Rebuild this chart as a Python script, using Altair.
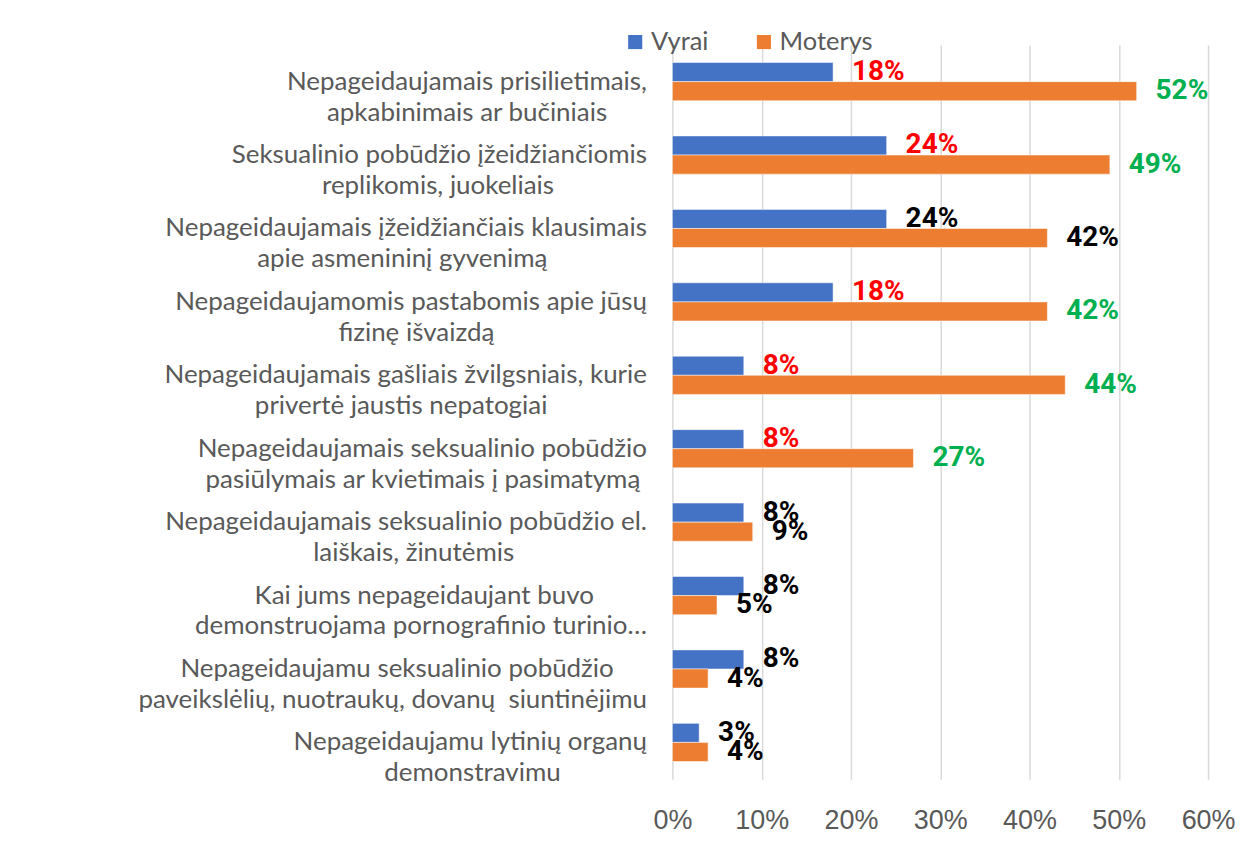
import altair as alt
import pandas as pd

line1 = [
    "Nepageidaujamais prisilietimais,",
    "Seksualinio pobūdžio įžeidžiančiomis",
    "Nepageidaujamais įžeidžiančiais klausimais",
    "Nepageidaujamomis pastabomis apie jūsų",
    "Nepageidaujamais gašliais žvilgsniais, kurie",
    "Nepageidaujamais seksualinio pobūdžio",
    "Nepageidaujamais seksualinio pobūdžio el.",
    "Kai jums nepageidaujant buvo",
    "Nepageidaujamu seksualinio pobūdžio",
    "Nepageidaujamu lytinių organų",
]
line2 = [
    "apkabinimais ar bučiniais",
    "replikomis, juokeliais",
    "apie asmenininį gyvenimą",
    "fizinę išvaizdą",
    "privertė jaustis nepatogiai",
    "pasiūlymais ar kvietimais į pasimatymą",
    "laiškais, žinutėmis",
    "demonstruojama pornografinio turinio…",
    "paveikslėlių, nuotraukų, dovanų\u00a0 siuntinėjimu",
    "demonstravimu",
]
series = ["Vyrai", "Moterys"]
vyrai = [18, 24, 24, 18, 8, 8, 8, 8, 8, 3]
moterys = [52, 49, 42, 42, 44, 27, 9, 5, 4, 4]
vyrai_label_colors = ["#FF0000", "#FF0000", "#000000", "#FF0000", "#FF0000",
                      "#FF0000", "#000000", "#000000", "#000000", "#000000"]
moterys_label_colors = ["#00B050", "#00B050", "#000000", "#00B050", "#00B050",
                        "#00B050", "#000000", "#000000", "#000000", "#000000"]
series_colors = ["#4472C4", "#ED7D31"]


# rough text-width estimate (in em) used only to centre the shorter line
def est_width(s):
    total = 0.0
    for ch in s:
        if ch in "iljíįı":
            total += 0.23
        elif ch in "ftr":
            total += 0.33
        elif ch in " \u00a0":
            total += 0.19
        elif ch in ",.":
            total += 0.2
        elif ch == "…":
            total += 0.8
        elif ch in "mw":
            total += 0.8
        elif ch.isupper():
            total += 0.65
        elif ch in "sz":
            total += 0.42
        elif ch in "c":
            total += 0.45
        else:
            total += 0.52
    return total


NBSP_EM = 0.25


def centre_pair(a, b):
    wa, wb = est_width(a), est_width(b)
    if wa >= wb:
        k = int(round((wa - wb) / 2 / NBSP_EM))
        return a, b + "\u00a0" * k + "\u2060"
    k = int(round((wb - wa) / 2 / NBSP_EM))
    return a + "\u00a0" * k + "\u2060", b


categories = []
for a, b in zip(line1, line2):
    a2, b2 = centre_pair(a, b)
    categories.append(a2 + "|" + b2)

rows = []
for i, c in enumerate(categories):
    rows.append({"cat": c, "series": "Vyrai", "value": vyrai[i],
                 "label": f"{vyrai[i]}%", "lcolor": vyrai_label_colors[i]})
    rows.append({"cat": c, "series": "Moterys", "value": moterys[i],
                 "label": f"{moterys[i]}%", "lcolor": moterys_label_colors[i]})
df = pd.DataFrame(rows)

y_enc = alt.Y("cat:N", sort=categories,
              scale=alt.Scale(paddingInner=0.48, paddingOuter=0.24),
              axis=alt.Axis(title=None, ticks=False, domain=False, grid=False,
                            labelExpr="split(datum.label, '|')",
                            labelAlign="right", labelBaseline="middle",
                            labelFont="Lato", labelFontSize=26, labelLineHeight=31,
                            labelColor="#595959", labelPadding=26, labelLimit=800))
yoff = alt.YOffset("series:N", sort=series, scale=alt.Scale(paddingInner=0))
x_enc = alt.X("value:Q",
              scale=alt.Scale(domain=[0, 60]),
              axis=alt.Axis(title=None, values=[0, 10, 20, 30, 40, 50, 60],
                            labelExpr="datum.value + '%'", ticks=False, domain=False,
                            labelFlush=False, labelOverlap=False,
                            gridColor="#D9D9D9", gridWidth=1.5,
                            labelFont="Liberation Sans", labelFontSize=27,
                            labelColor="#595959", labelPadding=28))

bars = alt.Chart(df).mark_bar(stroke="white", strokeWidth=0.5).encode(
    y=y_enc, yOffset=yoff, x=x_enc,
    color=alt.Color("series:N", sort=series,
                    scale=alt.Scale(domain=series, range=series_colors),
                    legend=alt.Legend(title=None, orient="none", direction="horizontal",
                                      legendX=-50, legendY=-16,
                                      symbolType="square", symbolSize=200,
                                      symbolStrokeWidth=0,
                                      labelFont="Lato", labelFontSize=25.5,
                                      labelColor="#595959", labelOffset=3,
                                      columnPadding=42)),
)

labels = alt.Chart(df).mark_text(align="left", baseline="middle", dx=19,
                                 font="Roboto", fontWeight="bold",
                                 fontSize=28).encode(
    y=y_enc, yOffset=yoff, x=x_enc,
    text="label:N",
    color=alt.Color("lcolor:N", scale=None, legend=None),
)

chart = alt.layer(bars, labels).properties(
    width=537, height=736,
    autosize=alt.AutoSizeParams(type="none"),
    padding={"left": 666, "top": 36, "right": 30, "bottom": 54},
).configure_view(stroke=None).resolve_scale(color="independent")

chart.save("out.html", embed_options={"renderer": "svg", "actions": False})
